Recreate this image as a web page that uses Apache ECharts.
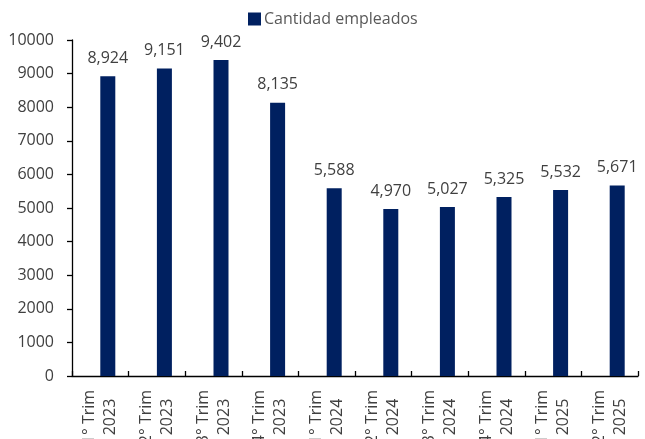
<!DOCTYPE html>
<html>
<head>
<meta charset="utf-8">
<script src="https://cdn.jsdelivr.net/npm/echarts@6/dist/echarts.min.js"></script>
<style>html,body{margin:0;padding:0;background:#fff}#c{width:645px;height:439px}</style>
</head>
<body>
<div id="c"></div>
<script>
const categories = ['1° Trim\n2023','2° Trim\n2023','3° Trim\n2023','4° Trim\n2023','1° Trim\n2024','2° Trim\n2024','3° Trim\n2024','4° Trim\n2024','1° Trim\n2025','2° Trim\n2025'];
const empleados = [8924, 9151, 9402, 8135, 5588, 4970, 5027, 5325, 5532, 5671];
const seriesName = 'Cantidad empleados';
const yMin = 0, yMax = 10000, yInterval = 1000;

const FONT = 'Open Sans';
const chart = echarts.init(document.getElementById('c'));
chart.setOption({
  animation: false,
  textStyle: { fontFamily: FONT },
  legend: {
    data: [seriesName],
    top: 11,
    left: 248,
    padding: 0,
    icon: 'rect',
    itemWidth: 13,
    itemHeight: 13,
    itemGap: 4,
    textStyle: { fontFamily: FONT, fontSize: 16, color: '#595959', padding: [0,0,0,-2] }
  },
  grid: { left: 72, top: 40, right: 7, bottom: 63, containLabel: false, outerBoundsMode: 'none' },
  xAxis: {
    type: 'category',
    data: categories,
    axisLine: { lineStyle: { color: '#000', width: 1.3 } },
    axisTick: { show: true, inside: true, length: 5, lineStyle: { color: '#000', width: 1.3 } },
    axisLabel: {
      rotate: 90, align: 'center', margin: 41, interval: 0, hideOverlap: false,
      fontFamily: FONT, fontSize: 16, color: '#404040', lineHeight: 21
    }
  },
  yAxis: {
    type: 'value',
    min: yMin, max: yMax, interval: yInterval,
    splitLine: { show: false },
    axisLine: { show: true, lineStyle: { color: '#000', width: 1.3 } },
    axisTick: { show: true, length: 5, lineStyle: { color: '#000', width: 1.3 } },
    axisLabel: { margin: 18, fontFamily: FONT, fontSize: 16, color: '#404040', formatter: v => String(v) }
  },
  series: [
    { name: '_spacer', type: 'bar', data: [], barWidth: 15, barGap: '0%' },
    {
      name: seriesName, type: 'bar', data: empleados, barWidth: 15, barGap: '0%',
      itemStyle: { color: '#002060' },
      label: {
        show: true, position: 'top', distance: 10,
        fontFamily: FONT, fontSize: 16, color: '#404040',
        formatter: p => p.value.toLocaleString('en-US')
      }
    }
  ]
});
</script>
</body>
</html>
